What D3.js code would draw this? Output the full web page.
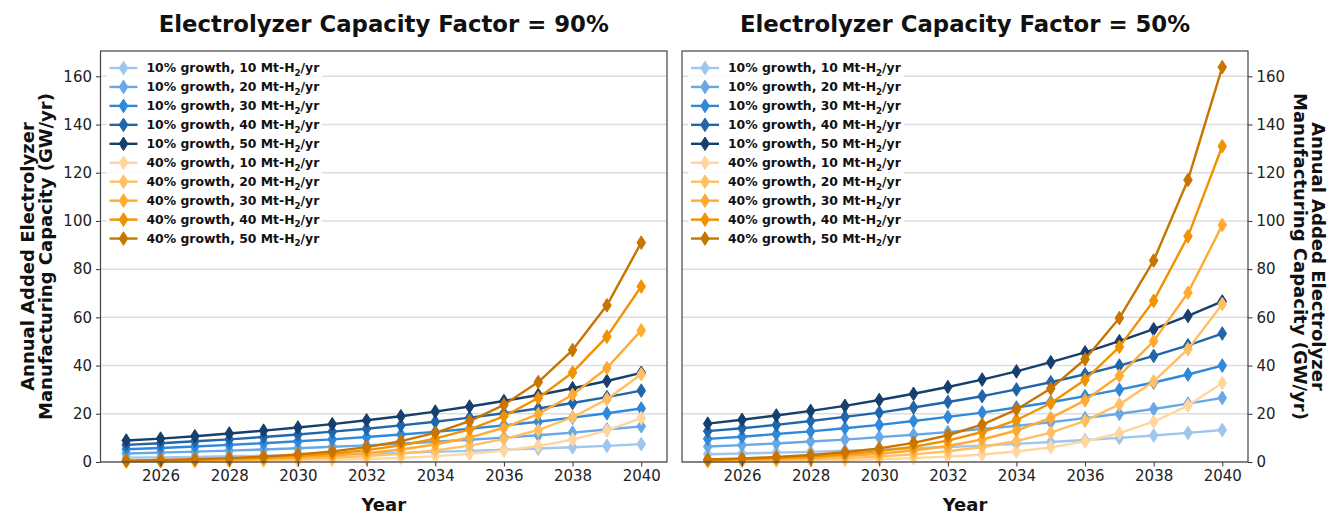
<!DOCTYPE html>
<html>
<head>
<meta charset="utf-8">
<script src="https://cdn.jsdelivr.net/npm/d3@7"></script>
<style>
  html, body { margin: 0; padding: 0; background: #ffffff; }
  svg { display: block; font-family: "DejaVu Sans", sans-serif; }
</style>
</head>
<body>
<svg id="chart" width="1328" height="515"></svg>
<script>
// Years on the x axis
const years = [2025, 2026, 2027, 2028, 2029, 2030, 2031, 2032, 2033, 2034, 2035, 2036, 2037, 2038, 2039, 2040];
const xTicks = [2026, 2028, 2030, 2032, 2034, 2036, 2038, 2040];
const yTicks = [0, 20, 40, 60, 80, 100, 120, 140, 160];

// Scenario names (legend order) and their colours
const seriesNames = [
  "10% growth, 10 Mt-H|2|/yr", "10% growth, 20 Mt-H|2|/yr", "10% growth, 30 Mt-H|2|/yr",
  "10% growth, 40 Mt-H|2|/yr", "10% growth, 50 Mt-H|2|/yr",
  "40% growth, 10 Mt-H|2|/yr", "40% growth, 20 Mt-H|2|/yr", "40% growth, 30 Mt-H|2|/yr",
  "40% growth, 40 Mt-H|2|/yr", "40% growth, 50 Mt-H|2|/yr"
];
const seriesColors = [
  "#9fc6ee", "#68a8e6", "#2f88da", "#2165aa", "#163f6d",
  "#ffd79e", "#ffc063", "#ffab33", "#f29200", "#c87500"
];

// Capacity factor 90% (GW/yr)
const cf90_g10_10 = [1.8, 1.9, 2.1, 2.4, 2.6, 2.9, 3.1, 3.5, 3.8, 4.2, 4.6, 5.1, 5.6, 6.1, 6.7, 7.4];
const cf90_g10_20 = [3.5, 3.9, 4.3, 4.7, 5.2, 5.7, 6.3, 6.9, 7.6, 8.4, 9.2, 10.1, 11.1, 12.2, 13.5, 14.8];
const cf90_g10_30 = [5.3, 5.8, 6.4, 7.1, 7.8, 8.6, 9.4, 10.4, 11.4, 12.5, 13.8, 15.2, 16.7, 18.4, 20.2, 22.2];
const cf90_g10_40 = [7.1, 7.8, 8.6, 9.4, 10.4, 11.4, 12.6, 13.8, 15.2, 16.7, 18.4, 20.2, 22.2, 24.5, 26.9, 29.6];
const cf90_g10_50 = [8.9, 9.7, 10.7, 11.8, 13.0, 14.3, 15.7, 17.3, 19.0, 20.9, 23.0, 25.3, 27.8, 30.6, 33.6, 37.0];
const cf90_g40_10 = [0.12, 0.16, 0.23, 0.32, 0.45, 0.63, 0.88, 1.23, 1.73, 2.42, 3.38, 4.74, 6.63, 9.29, 13.0, 18.2];
const cf90_g40_20 = [0.23, 0.33, 0.46, 0.64, 0.90, 1.26, 1.76, 2.47, 3.45, 4.84, 6.77, 9.48, 13.27, 18.57, 26.0, 36.4];
const cf90_g40_30 = [0.35, 0.49, 0.69, 0.96, 1.35, 1.89, 2.64, 3.70, 5.18, 7.25, 10.15, 14.21, 19.90, 27.86, 39.0, 54.6];
const cf90_g40_40 = [0.47, 0.66, 0.92, 1.28, 1.80, 2.52, 3.52, 4.93, 6.91, 9.67, 13.54, 18.95, 26.53, 37.15, 52.0, 72.8];
const cf90_g40_50 = [0.59, 0.82, 1.15, 1.61, 2.25, 3.15, 4.41, 6.17, 8.63, 12.09, 16.92, 23.69, 33.17, 46.43, 65.0, 91.0];

// Capacity factor 50% (GW/yr)
const cf50_g10_10 = [3.2, 3.5, 3.9, 4.2, 4.7, 5.1, 5.7, 6.2, 6.8, 7.5, 8.3, 9.1, 10.0, 11.0, 12.1, 13.3];
const cf50_g10_20 = [6.4, 7.0, 7.7, 8.5, 9.3, 10.3, 11.3, 12.4, 13.7, 15.0, 16.5, 18.2, 20.0, 22.0, 24.2, 26.6];
const cf50_g10_30 = [9.6, 10.5, 11.6, 12.7, 14.0, 15.4, 17.0, 18.7, 20.5, 22.6, 24.8, 27.3, 30.0, 33.0, 36.3, 40.0];
const cf50_g10_40 = [12.8, 14.0, 15.4, 17.0, 18.7, 20.5, 22.6, 24.9, 27.3, 30.1, 33.1, 36.4, 40.0, 44.0, 48.4, 53.3];
const cf50_g10_50 = [15.9, 17.5, 19.3, 21.2, 23.3, 25.7, 28.3, 31.1, 34.2, 37.6, 41.4, 45.5, 50.1, 55.1, 60.6, 66.6];
const cf50_g40_10 = [0.21, 0.29, 0.41, 0.58, 0.81, 1.13, 1.59, 2.22, 3.11, 4.35, 6.09, 8.53, 11.94, 16.71, 23.4, 32.8];
const cf50_g40_20 = [0.42, 0.59, 0.83, 1.16, 1.62, 2.26, 3.17, 4.44, 6.22, 8.70, 12.18, 17.06, 23.88, 33.43, 46.8, 65.5];
const cf50_g40_30 = [0.63, 0.88, 1.24, 1.73, 2.43, 3.40, 4.76, 6.66, 9.32, 13.06, 18.28, 25.58, 35.82, 50.14, 70.2, 98.3];
const cf50_g40_40 = [0.84, 1.18, 1.65, 2.31, 3.24, 4.53, 6.34, 8.88, 12.43, 17.41, 24.37, 34.11, 47.76, 66.86, 93.6, 131.0];
const cf50_g40_50 = [1.05, 1.47, 2.06, 2.89, 4.04, 5.66, 7.93, 11.10, 15.54, 21.76, 30.46, 42.64, 59.70, 83.57, 117.0, 163.8];

const panelTitles = ["Electrolyzer Capacity Factor = 90%", "Electrolyzer Capacity Factor = 50%"];
const yLabelLines = ["Annual Added Electrolyzer", "Manufacturing Capacity (GW/yr)"];

const panels = [
  {
    title: panelTitles[0], left: 100.5, right: 667, yAxisSide: "left",
    series: [cf90_g10_10, cf90_g10_20, cf90_g10_30, cf90_g10_40, cf90_g10_50,
             cf90_g40_10, cf90_g40_20, cf90_g40_30, cf90_g40_40, cf90_g40_50]
  },
  {
    title: panelTitles[1], left: 682, right: 1248, yAxisSide: "right",
    series: [cf50_g10_10, cf50_g10_20, cf50_g10_30, cf50_g10_40, cf50_g10_50,
             cf50_g40_10, cf50_g40_20, cf50_g40_30, cf50_g40_40, cf50_g40_50]
  }
];

const plotTop = 51, plotBottom = 462;
const svg = d3.select("#chart");
svg.append("rect").attr("width", 1328).attr("height", 515).attr("fill", "#ffffff");

const diamond = (w, h) => `M0,${-h}L${w},0L0,${h}L${-w},0Z`;

// Write "H|2|" style text with a subscript part
function richText(sel, str, size) {
  const parts = str.split("|");
  parts.forEach((p, i) => {
    if (i % 2 === 1) {
      sel.append("tspan").attr("font-size", size * 0.7).attr("dy", size * 0.28).text(p);
    } else {
      const t = sel.append("tspan").text(p);
      if (i > 0) t.attr("dy", -size * 0.28);
    }
  });
}

panels.forEach(p => {
  const x = d3.scaleLinear().domain([2024.25, 2040.75]).range([p.left, p.right]);
  const y = d3.scaleLinear().domain([0, 170.5]).range([plotBottom, plotTop]);
  const g = svg.append("g");

  // grid
  g.append("g").selectAll("line").data(yTicks).join("line")
    .attr("x1", p.left).attr("x2", p.right)
    .attr("y1", d => y(d)).attr("y2", d => y(d))
    .attr("stroke", "#dddddd").attr("stroke-width", 1.5);

  // series
  const line = d3.line().x((d, i) => x(years[i])).y(d => y(d));
  p.series.forEach((vals, si) => {
    const c = seriesColors[si];
    const sg = g.append("g");
    sg.append("path").attr("d", line(vals)).attr("fill", "none")
      .attr("stroke", c).attr("stroke-width", 2.4).attr("stroke-linejoin", "round");
    sg.selectAll("path.m").data(vals).join("path").attr("class", "m")
      .attr("transform", (d, i) => `translate(${x(years[i])},${y(d)})`)
      .attr("d", diamond(4.3, 6.8))
      .attr("fill", c).attr("stroke", c).attr("stroke-width", 1);
  });

  // x axis
  const xAxis = g.append("g").attr("transform", `translate(0,${plotBottom})`)
    .call(d3.axisBottom(x).tickValues(xTicks).tickFormat(d3.format("d")).tickSize(4.5).tickPadding(4));
  xAxis.select(".domain").remove();
  xAxis.selectAll("line").attr("stroke", "#333").attr("stroke-width", 1);
  xAxis.selectAll("text").attr("font-size", 15).attr("fill", "#222")
    .attr("font-family", "DejaVu Sans");

  // y axis
  const yAxisGen = p.yAxisSide === "left" ? d3.axisLeft(y) : d3.axisRight(y);
  const yAxis = g.append("g")
    .attr("transform", `translate(${p.yAxisSide === "left" ? p.left : p.right},0)`)
    .call(yAxisGen.tickValues(yTicks).tickFormat(d3.format("d")).tickSize(4.5).tickPadding(4));
  yAxis.select(".domain").remove();
  yAxis.selectAll("line").attr("stroke", "#333").attr("stroke-width", 1);
  yAxis.selectAll("text").attr("font-size", 15).attr("fill", "#222")
    .attr("font-family", "DejaVu Sans");

  // frame
  g.append("rect").attr("x", p.left).attr("y", plotTop)
    .attr("width", p.right - p.left).attr("height", plotBottom - plotTop)
    .attr("fill", "none").attr("stroke", "#444").attr("stroke-width", 1.2);

  // title
  const cx = (p.left + p.right) / 2;
  svg.append("text").attr("x", cx).attr("y", 24).attr("text-anchor", "middle")
    .attr("dominant-baseline", "central").attr("font-size", 22.8).attr("font-weight", "bold")
    .attr("fill", "#111").text(p.title);

  // x label
  svg.append("text").attr("x", cx).attr("y", 504).attr("text-anchor", "middle")
    .attr("dominant-baseline", "central").attr("font-size", 18).attr("font-weight", "bold")
    .attr("fill", "#111").text("Year");

  // y label
  const yc = (plotTop + plotBottom) / 2;
  if (p.yAxisSide === "left") {
    [27, 45].forEach((lx, li) => {
      svg.append("text").attr("transform", `translate(${lx},${yc}) rotate(-90)`)
        .attr("text-anchor", "middle").attr("dominant-baseline", "central")
        .attr("font-size", 18).attr("font-weight", "bold").attr("fill", "#111")
        .text(yLabelLines[li]);
    });
  } else {
    [1318, 1300].forEach((lx, li) => {
      svg.append("text").attr("transform", `translate(${lx},${yc}) rotate(90)`)
        .attr("text-anchor", "middle").attr("dominant-baseline", "central")
        .attr("font-size", 18).attr("font-weight", "bold").attr("fill", "#111")
        .text(yLabelLines[li]);
    });
  }

  // legend
  const lg = g.append("g").attr("transform", `translate(${p.left},0)`);
  lg.append("rect").attr("x", 6).attr("y", 57).attr("width", 216).attr("height", 192)
    .attr("fill", "#ffffff").attr("opacity", 0.85);
  seriesNames.forEach((name, i) => {
    const ry = 68 + i * 18.95;
    const c = seriesColors[i];
    lg.append("line").attr("x1", 9).attr("x2", 37).attr("y1", ry).attr("y2", ry)
      .attr("stroke", c).attr("stroke-width", 2.4);
    lg.append("path").attr("transform", `translate(23,${ry})`).attr("d", diamond(4.3, 6.8))
      .attr("fill", c).attr("stroke", c).attr("stroke-width", 1);
    const t = lg.append("text").attr("x", 46).attr("y", ry + 4.4)
      .attr("font-size", 12.4).attr("font-weight", "bold").attr("fill", "#111");
    richText(t, name, 12.4);
  });
});
</script>
</body>
</html>
